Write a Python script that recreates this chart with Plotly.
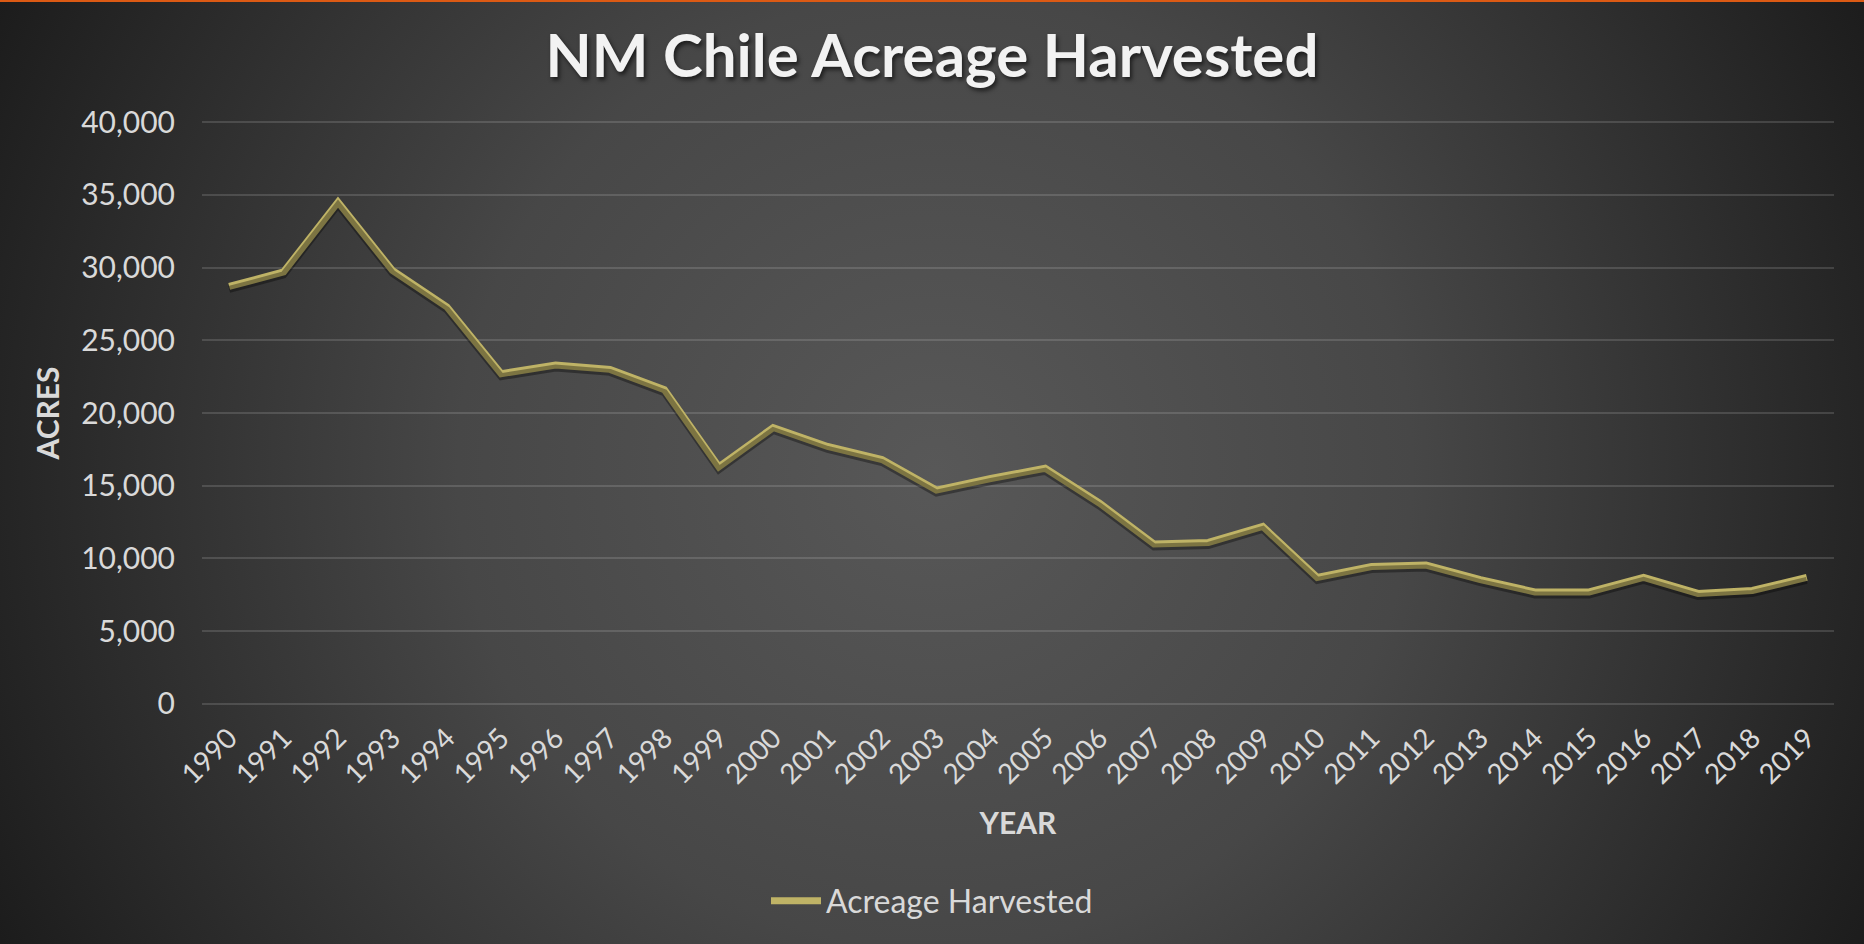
import base64
import plotly.graph_objects as go

years = [str(y) for y in range(1990, 2020)]
acres = [28700, 29700, 34500, 29800, 27300, 22700, 23300, 23000, 21600, 16300,
         19000, 17700, 16800, 14700, 15500, 16200, 13800, 11000, 11100, 12200,
         8700, 9450, 9550, 8550, 7700, 7700, 8700, 7600, 7800, 8700]
y_ticks = [0, 5000, 10000, 15000, 20000, 25000, 30000, 35000, 40000]
y_ticktext = ["0", "5,000", "10,000", "15,000", "20,000", "25,000", "30,000", "35,000", "40,000"]

W, H = 1864, 944
ML, MR, MT, MB = 202, 30, 120, 238
PW, PH = W - ML - MR, H - MT - MB

FONT = "Lato"
TXT = "#d9d9d9"
LINE = "#bfb366"

svg = (
    f"<svg xmlns='http://www.w3.org/2000/svg' width='{W}' height='{H}'>"
    "<defs><radialGradient id='g' gradientUnits='userSpaceOnUse' cx='935' cy='470' r='1060'>"
    "<stop offset='0' stop-color='#585858'/>"
    "<stop offset='0.45' stop-color='#474747'/>"
    "<stop offset='1' stop-color='#1b1b1b'/>"
    "</radialGradient></defs>"
    f"<rect width='{W}' height='{H}' fill='url(#g)'/></svg>"
)
bg_src = "data:image/svg+xml;base64," + base64.b64encode(svg.encode()).decode()

fig = go.Figure()

# soft drop shadow of the line (same data, overlay axis offset a few pixels)
fig.add_trace(go.Scatter(
    x=years, y=acres, mode="lines", yaxis="y2",
    line=dict(color="rgba(0,0,0,0.35)", width=7),
    showlegend=False, hoverinfo="skip",
))
fig.add_trace(go.Scatter(
    x=years, y=acres, mode="lines", name="Acreage Harvested",
    line=dict(color=LINE, width=7),
))

# pad the value range by ~2 px so the 0 and 40,000 gridlines are drawn
Y0, Y1 = -140, 40140
d = 3 * (Y1 - Y0) / PH

fig.update_layout(
    width=W, height=H,
    margin=dict(l=ML, r=MR, t=MT, b=MB),
    paper_bgcolor="#1e1e1e",
    plot_bgcolor="rgba(0,0,0,0)",
    font=dict(family=FONT, color=TXT),
    title=dict(
        text="NM Chile Acreage Harvested",
        x=0.5, xref="container", xanchor="center",
        y=1 - 56 / H, yref="container", yanchor="middle",
        font=dict(family=FONT, size=60, color="#f2f2f2", weight="bold",
                  shadow="2px 3px 4px rgba(0,0,0,0.6)"),
    ),
    xaxis=dict(
        type="category", range=[-0.5, len(years) - 0.5],
        tickangle=-45, tickfont=dict(size=28, color=TXT),
        showgrid=False, zeroline=False, showline=False, ticks="",
        ticklabelstandoff=9,
        title=dict(text="<b>YEAR</b>", font=dict(size=30, color=TXT), standoff=23),
    ),
    yaxis=dict(
        range=[Y0, Y1], tickvals=y_ticks, ticktext=y_ticktext,
        tickfont=dict(size=30, color=TXT),
        showgrid=True, gridcolor="rgba(217,217,217,0.17)", gridwidth=2,
        zeroline=False, showline=False, ticks="",
        ticklabelstandoff=26,
        title=dict(text="<b>ACRES</b>", font=dict(size=30, color=TXT), standoff=12),
    ),
    yaxis2=dict(range=[Y0 + d, Y1 + d], overlaying="y", visible=False),
    legend=dict(
        orientation="h", x=0.5, xref="container", xanchor="center",
        y=1 - 901 / H, yref="container", yanchor="middle",
        font=dict(size=32, color=TXT), itemwidth=50,
        bgcolor="rgba(0,0,0,0)",
    ),
    images=[dict(
        source=bg_src, xref="paper", yref="paper",
        x=-ML / PW, y=1 + MT / PH, sizex=W / PW, sizey=H / PH,
        xanchor="left", yanchor="top", sizing="stretch", layer="below",
    )],
    shapes=[dict(
        type="rect", xref="paper", yref="paper",
        x0=-ML / PW, x1=1 + MR / PW, y0=1 + (MT - 2) / PH, y1=1 + MT / PH,
        fillcolor="#dc5a14", line=dict(width=0), layer="above",
    )],
    showlegend=True,
)

fig.write_html(
    "out.html",
    config={"displayModeBar": False},
    post_script="document.body.style.margin='0';document.body.style.overflow='hidden';"
                "document.documentElement.style.overflow='hidden';",
)
